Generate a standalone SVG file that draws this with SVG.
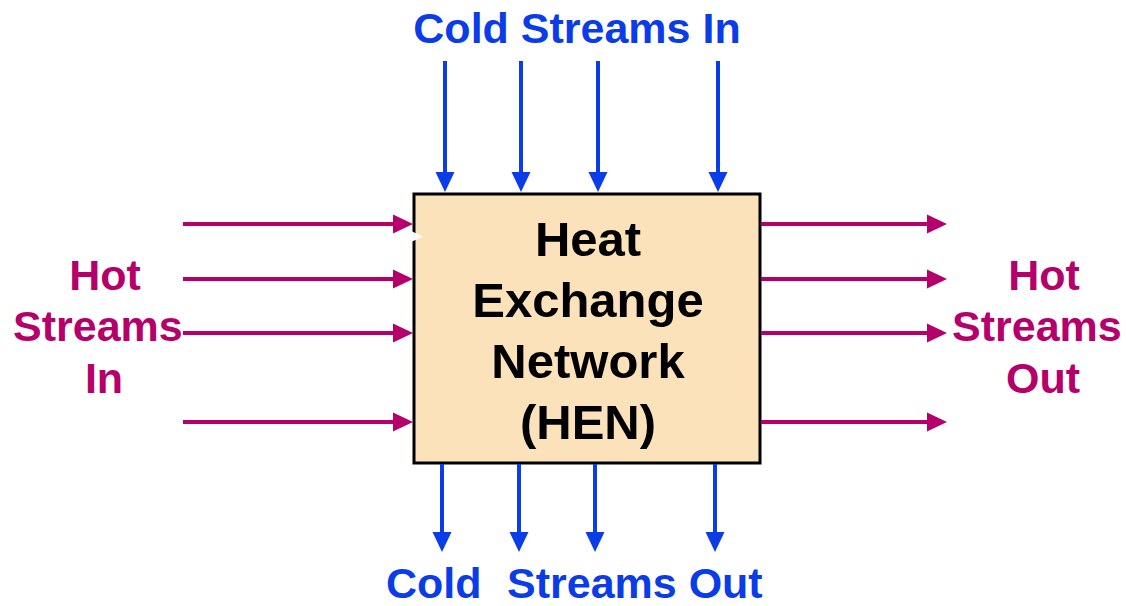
<svg xmlns="http://www.w3.org/2000/svg" width="1126" height="606" viewBox="0 0 1126 606">
  <style>
    .hot { stroke: #B5006B; stroke-width: 4; fill: none; }
    .cold { stroke: #0A3CE8; stroke-width: 4; fill: none; }
    .lbl { font-family: "Liberation Sans", Arial, sans-serif; font-weight: bold; font-size: 43px; }
    .hotT { fill: #B5006B; }
    .coldT { fill: #0A3CE8; }
    .hen { font-family: "Liberation Sans", Arial, sans-serif; font-weight: bold; font-size: 49px; fill: #000; text-anchor: middle; }
  </style>
  <defs>
    <marker id="ahot" markerUnits="userSpaceOnUse" markerWidth="22" markerHeight="20" refX="10" refY="9.5" orient="auto" overflow="visible">
      <path d="M0,0 L20,9.5 L0,19 Z" fill="#B5006B"/>
    </marker>
    <marker id="acold" markerUnits="userSpaceOnUse" markerWidth="22" markerHeight="20" refX="10" refY="9.5" orient="auto" overflow="visible">
      <path d="M0,0 L20,9.5 L0,19 Z" fill="#0A3CE8"/>
    </marker>
  </defs>
  <rect width="1126" height="606" fill="#fff"/>

  <g id="hen">
    <rect x="414" y="194" width="346" height="269" fill="#FBE2BA" stroke="#000" stroke-width="3"/>
    <polygon points="411,231 423,236.5 411,242" fill="#fff"/>
    <text class="hen" x="588" y="256">Heat</text>
    <text class="hen" x="588" y="317">Exchange</text>
    <text class="hen" x="588" y="378">Network</text>
    <text class="hen" x="588" y="439">(HEN)</text>
  </g>

  <g id="connectors">
    <line class="hot" x1="183" y1="224" x2="403" y2="224" marker-end="url(#ahot)"/>
    <line class="hot" x1="183" y1="279" x2="403" y2="279" marker-end="url(#ahot)"/>
    <line class="hot" x1="183" y1="333" x2="403" y2="333" marker-end="url(#ahot)"/>
    <line class="hot" x1="183" y1="422" x2="403" y2="422" marker-end="url(#ahot)"/>
    <line class="hot" x1="761" y1="224" x2="937" y2="224" marker-end="url(#ahot)"/>
    <line class="hot" x1="761" y1="279" x2="937" y2="279" marker-end="url(#ahot)"/>
    <line class="hot" x1="761" y1="333" x2="937" y2="333" marker-end="url(#ahot)"/>
    <line class="hot" x1="761" y1="422" x2="937" y2="422" marker-end="url(#ahot)"/>
    <line class="cold" x1="445" y1="61" x2="445" y2="182" marker-end="url(#acold)"/>
    <line class="cold" x1="521" y1="61" x2="521" y2="182" marker-end="url(#acold)"/>
    <line class="cold" x1="598" y1="61" x2="598" y2="182" marker-end="url(#acold)"/>
    <line class="cold" x1="718" y1="61" x2="718" y2="182" marker-end="url(#acold)"/>
    <line class="cold" x1="442" y1="464" x2="442" y2="542" marker-end="url(#acold)"/>
    <line class="cold" x1="519" y1="464" x2="519" y2="542" marker-end="url(#acold)"/>
    <line class="cold" x1="595" y1="464" x2="595" y2="542" marker-end="url(#acold)"/>
    <line class="cold" x1="715" y1="464" x2="715" y2="542" marker-end="url(#acold)"/>
  </g>

  <g id="cold-in">
    <text class="lbl coldT" x="577" y="43" text-anchor="middle">Cold Streams In</text>
  </g>
  <g id="cold-out">
    <text class="lbl coldT" y="598"><tspan x="386">Cold</tspan><tspan x="507">Streams Out</tspan></text>
  </g>
  <g id="hot-in">
    <text class="lbl hotT" x="105" y="290" text-anchor="middle">Hot</text>
    <text class="lbl hotT" x="13" y="341">Streams</text>
    <text class="lbl hotT" x="104" y="393" text-anchor="middle">In</text>
  </g>
  <g id="hot-out">
    <text class="lbl hotT" x="1044" y="290" text-anchor="middle">Hot</text>
    <text class="lbl hotT" x="952" y="341">Streams</text>
    <text class="lbl hotT" x="1043" y="393" text-anchor="middle">Out</text>
  </g>
</svg>
